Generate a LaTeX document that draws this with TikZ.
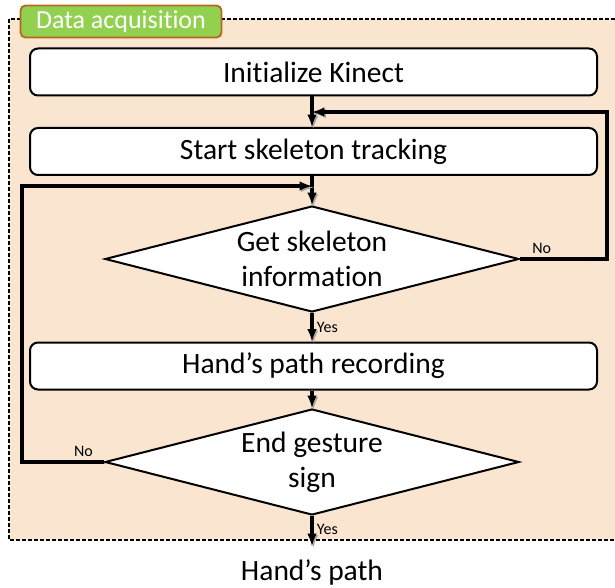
\documentclass[tikz,border=0pt]{standalone}
\usepackage{fontspec}
\setmainfont{Carlito}[Ligatures=NoCommon]
\usetikzlibrary{shapes.geometric}
\definecolor{peach}{HTML}{FAE5D0}
\definecolor{leaf}{HTML}{92D050}
\definecolor{rust}{HTML}{B8661E}
\tikzset{>=latex,
  gbox/.style={
    rectangle,
    draw,
    fill=white,
    line width=2pt,
    minimum height=47pt,
    minimum width=567pt,
    font=\fontsize{29.5}{34}\selectfont
  },
  rbox/.style={gbox,rounded corners=8pt},
  decbox/.style={diamond,draw,fill=white,line width=2pt,
    aspect=3.9,inner sep=0pt,
    minimum width=414pt,minimum height=106pt,
    align=center,font=\fontsize{29.5}{35}\selectfont},
  tagbox/.style={rectangle,rounded corners=5pt,draw=rust,line width=1.8pt,
    fill=leaf,text=white,minimum width=201pt,minimum height=32pt,
    font=\fontsize{26}{28}\selectfont},
  flow/.style={->,line width=3.2pt,
    preaction={draw,black!35,transform canvas={shift={(1.5pt,-1.5pt)}}}},
  small/.style={font=\fontsize{16}{18}\selectfont},
}
\begin{document}
\begin{tikzpicture}[x=1pt,y=-1pt]
  \useasboundingbox (0,0) rectangle (615,588);
  \draw[dash pattern=on 4pt off 2pt,line width=1.1pt,fill=peach] (9,19) rectangle (625,540);
  \node [tagbox] (tag) at (121,21.5) {Data acquisition};

  \node [rbox] (init) at (313.5,72) {Initialize Kinect};
  \node [rbox] (start) at (313.5,151.5) {Start skeleton tracking};
  \node [decbox] (getinfo) at (312,259) {Get skeleton\\information};
  \node [rbox] (record) at (313.5,366) {Hand’s path recording};
  \node [decbox] (endsign) at (312,462) {End gesture\\sign};
  \node [font=\fontsize{29.5}{34}\selectfont] (out) at (312,572) {Hand’s path};

  \coordinate (joinA) at (312,112);
  \coordinate (joinB) at (312,186);
  \coordinate (exit) at (312,546);

  \draw[flow] (init.south -| joinA) -- (start.north -| joinA);
  \draw[flow] (start.south -| joinB) -- (getinfo.north);
  \draw[flow] (getinfo.south) -- node[small,right] {Yes} (record.north -| getinfo.south);
  \draw[flow] (record.south -| endsign.north) -- (endsign.north);
  \draw[flow] (endsign.south) -- node[small,right,pos=0.45] {Yes} (exit);

  % loops back
  \draw[flow] (getinfo.east) -- node[small,above,pos=0.25] {No} (607,259) |- (joinA);
  \draw[flow] (endsign.west) -- node[small,above,pos=0.25] {No} (22,462) |- (joinB);
\end{tikzpicture}
\end{document}
